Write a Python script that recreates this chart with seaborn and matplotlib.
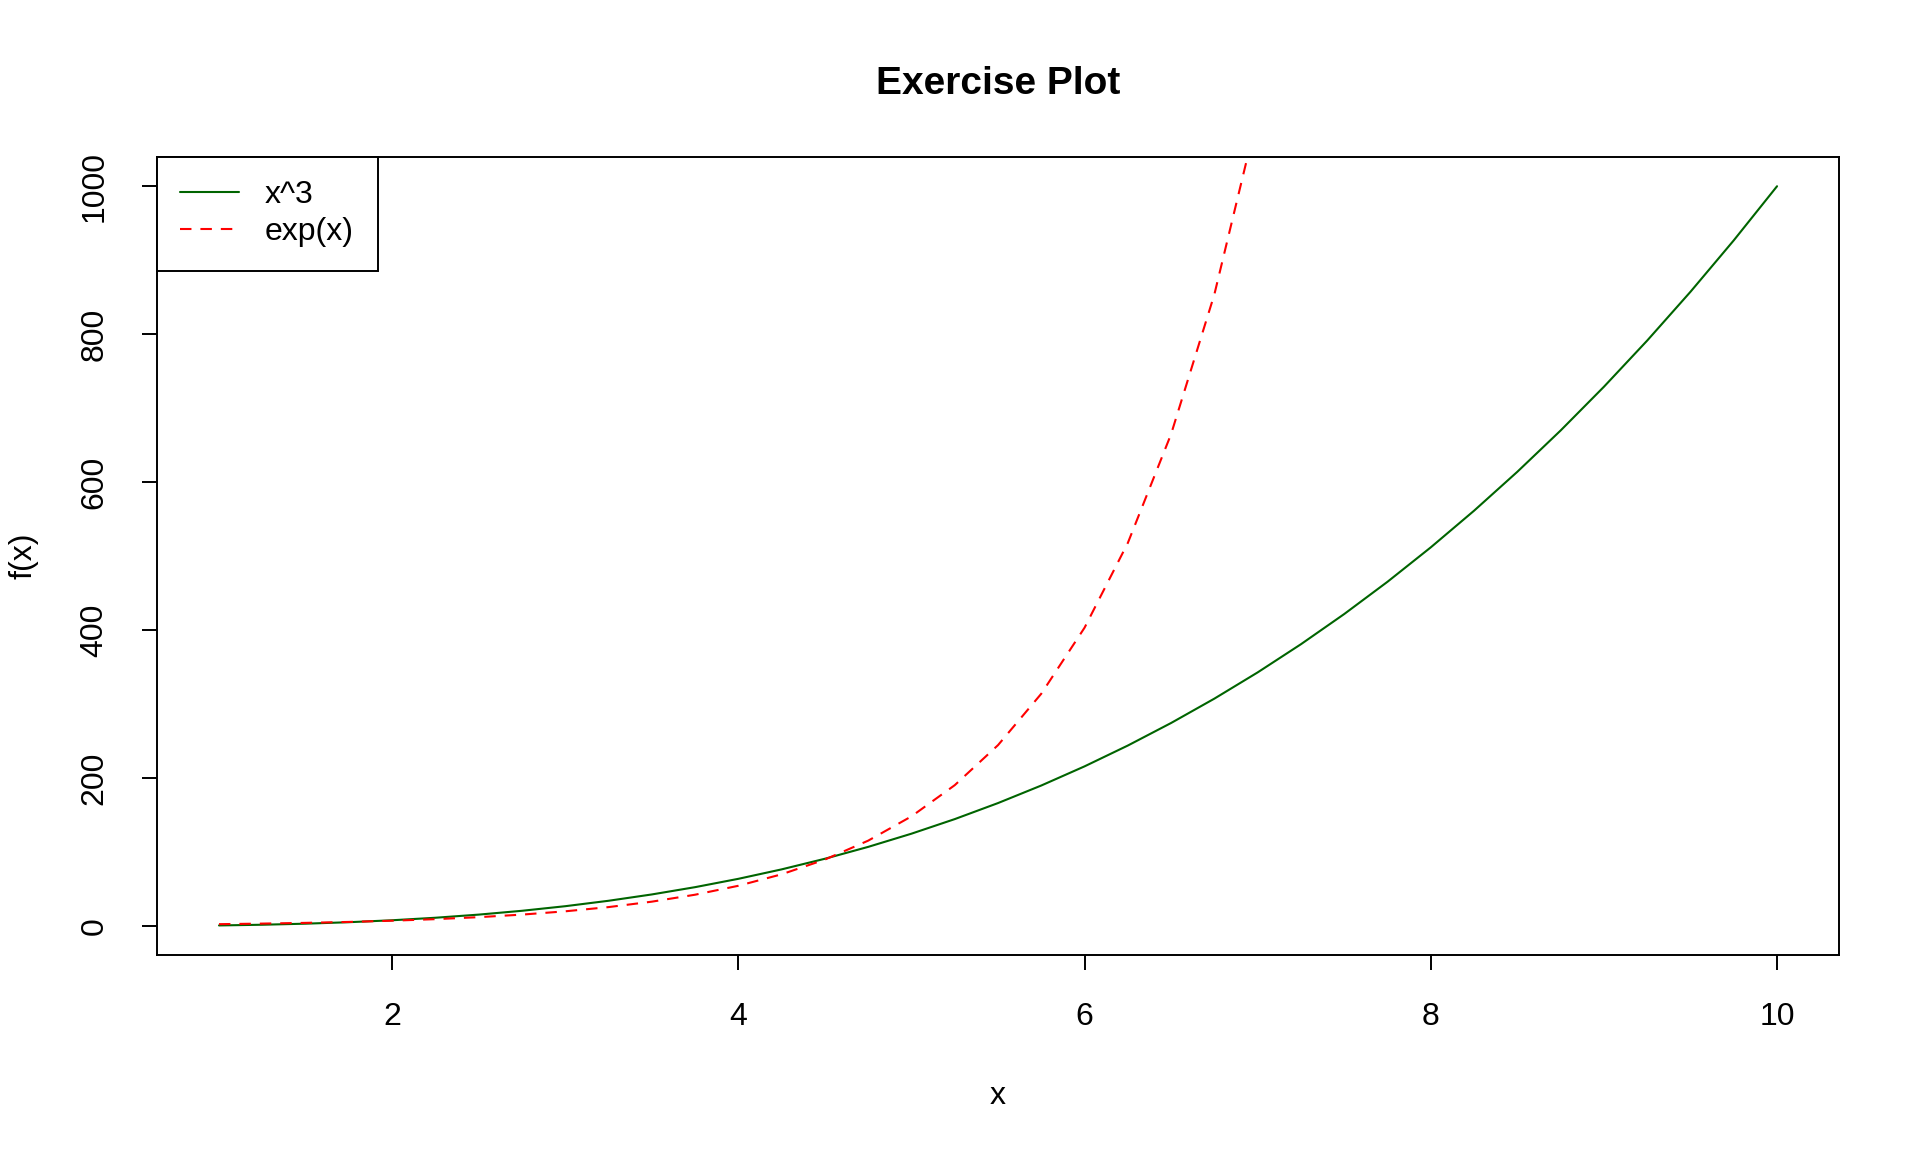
import matplotlib
matplotlib.use("Agg")
import matplotlib.pyplot as plt
import seaborn as sns
import pandas as pd

# values
x_cube = [1, 1.25, 1.5, 1.75, 2, 2.25, 2.5, 2.75, 3, 3.25, 3.5, 3.75, 4, 4.25, 4.5, 4.75,
          5, 5.25, 5.5, 5.75, 6, 6.25, 6.5, 6.75, 7, 7.25, 7.5, 7.75, 8, 8.25, 8.5, 8.75,
          9, 9.25, 9.5, 9.75, 10]
y_cube = [1, 1.95, 3.38, 5.36, 8, 11.39, 15.63, 20.80, 27, 34.33, 42.88, 52.73, 64, 76.77,
          91.13, 107.17, 125, 144.70, 166.38, 190.11, 216, 244.14, 274.63, 307.55, 343,
          381.08, 421.88, 465.48, 512, 561.52, 614.13, 669.92, 729, 791.45, 857.38, 926.86, 1000]
x_exp = [1, 1.25, 1.5, 1.75, 2, 2.25, 2.5, 2.75, 3, 3.25, 3.5, 3.75, 4, 4.25, 4.5, 4.75,
         5, 5.25, 5.5, 5.75, 6, 6.25, 6.5, 6.75, 7, 7.25]
y_exp = [2.72, 3.49, 4.48, 5.75, 7.39, 9.49, 12.18, 15.64, 20.09, 25.79, 33.12, 42.52, 54.60,
         70.11, 90.02, 115.58, 148.41, 190.57, 244.69, 314.19, 403.43, 518.01, 665.14,
         854.06, 1096.63, 1408.10]
series_names = ["x^3", "exp(x)"]
x_ticks = [2, 4, 6, 8, 10]
y_ticks = [0, 200, 400, 600, 800, 1000]

sns.set_style("white")
plt.rcParams['font.family'] = ['Liberation Sans', 'DejaVu Sans']
plt.rcParams['text.color'] = 'black'
plt.rcParams['axes.labelcolor'] = 'black'
plt.rcParams['xtick.color'] = 'black'
plt.rcParams['ytick.color'] = 'black'

fig = plt.figure(figsize=(19.2, 11.52), dpi=100)
ax = fig.add_axes([0.0816, 0.171, 0.958 - 0.0816, 0.864 - 0.171])

df_cube = pd.DataFrame({"x": x_cube, "y": y_cube})
df_exp = pd.DataFrame({"x": x_exp, "y": y_exp})
sns.lineplot(data=df_cube, x="x", y="y", ax=ax, color="#006400", lw=1.5, label=series_names[0])
sns.lineplot(data=df_exp, x="x", y="y", ax=ax, color="#FF0000", lw=1.5,
             linestyle=(0, (5.5, 4.3)), label=series_names[1])

ax.set_xlim(1 - 0.36, 10 + 0.36)
ax.set_ylim(1 - 39.96, 1000 + 39.96)
ax.set_xticks(x_ticks)
ax.set_yticks(y_ticks)
ax.set_xticklabels([str(t) for t in x_ticks])
ax.set_yticklabels([str(t) for t in y_ticks], rotation=90, va="center")

for s in ax.spines.values():
    s.set_visible(True)
    s.set_color("black")
    s.set_linewidth(1.4)

ax.tick_params(axis="both", direction="out", length=11, width=1.4, colors="black",
               labelsize=23, pad=23, bottom=True, left=True)

ax.set_title("Exercise Plot", fontsize=28, fontweight="bold", pad=45, color="black")
ax.set_xlabel("x", fontsize=23)
ax.set_ylabel("f(x)", fontsize=23)
ax.xaxis.set_label_coords(0.5, -0.158)
ax.yaxis.set_label_coords(-0.07, 0.5)

leg = ax.legend(loc="upper left", borderaxespad=0, fancybox=False, framealpha=1,
                edgecolor="black", fontsize=23, handlelength=1.85, handletextpad=0.8,
                borderpad=0.74, labelspacing=0.22)
leg.get_frame().set_linewidth(1.4)

fig.savefig("out.png", dpi=100, facecolor="white")
